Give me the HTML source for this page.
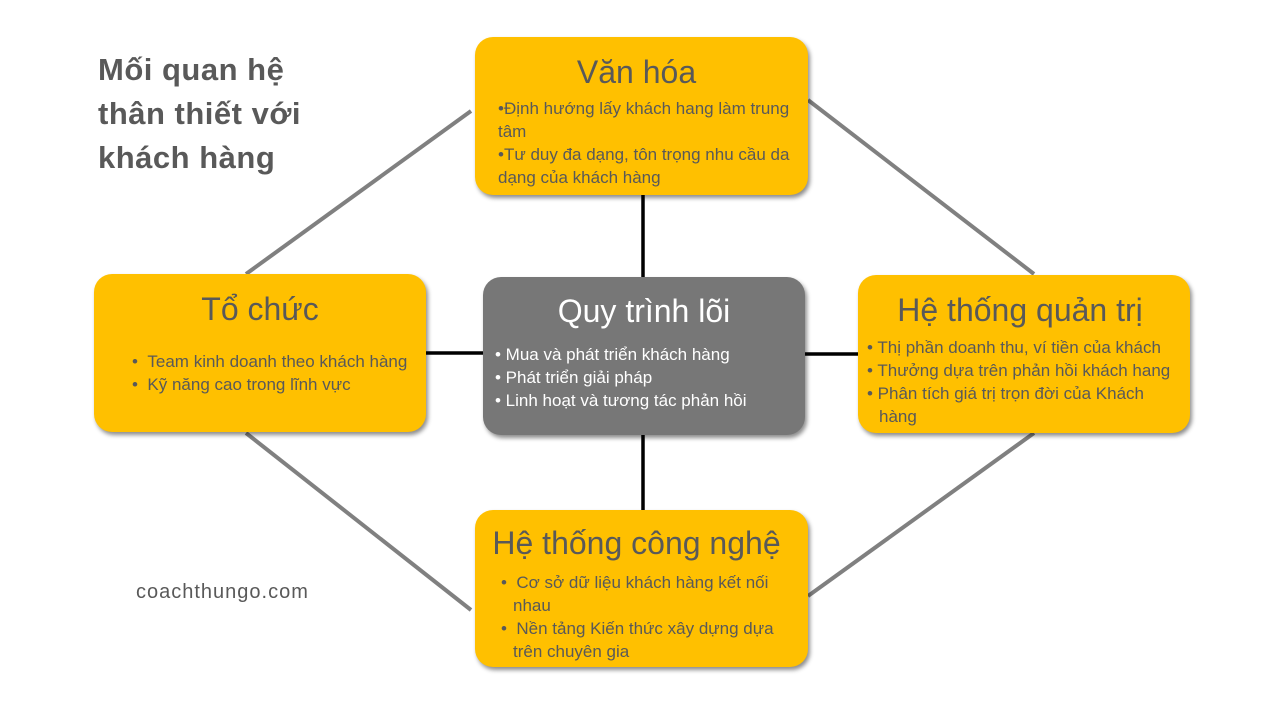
<!DOCTYPE html>
<html><head><meta charset="utf-8"><style>
body{margin:0;width:1280px;height:720px;background:#fff;position:relative;overflow:hidden;font-family:"Liberation Sans",sans-serif;color:#595959}
.b{position:absolute;background:#FFC000;border-radius:18px;box-shadow:2px 3px 4px rgba(0,0,0,.45);box-sizing:border-box}
.h{text-align:center;font-size:32px;line-height:38px}
.t{font-size:17px;line-height:23px}
.c{background:#777;color:#fff}
ul{margin:0;padding:0;list-style:none}
li{padding-left:12px;text-indent:-12px}
</style></head><body>
<svg width="1280" height="720" style="position:absolute;left:0;top:0">
<g stroke="#808080" stroke-width="4">
<line x1="471" y1="111" x2="246" y2="274"/>
<line x1="808" y1="100" x2="1034" y2="274"/>
<line x1="246" y1="433" x2="471" y2="610"/>
<line x1="1034" y1="433" x2="808" y2="596"/>
</g>
<g stroke="#000" stroke-width="3.5">
<line x1="643" y1="195" x2="643" y2="277"/>
<line x1="426" y1="353" x2="483" y2="353"/>
<line x1="805" y1="354" x2="858" y2="354"/>
<line x1="643" y1="435" x2="643" y2="510"/>
</g></svg>
<div style="position:absolute;left:98px;top:48px;font-size:31px;font-weight:bold;line-height:44px;letter-spacing:0.5px">Mối quan hệ<br>thân thiết với<br>khách hàng</div>
<div style="position:absolute;left:136px;top:581px;font-size:20px;letter-spacing:1px">coachthungo.com</div>

<div class="b" style="left:475px;top:37px;width:333px;height:158px;padding:16px 10px 0 23px">
<div class="h" style="margin-left:-23px">Văn hóa</div>
<div class="t" style="margin-top:6px">•Định hướng lấy khách hang làm trung tâm<br>•Tư duy đa dạng, tôn trọng nhu cầu da dạng của khách hàng</div></div>

<div class="b" style="left:94px;top:274px;width:332px;height:158px;padding:16px 0 0 38px">
<div class="h" style="margin-left:-38px">Tổ chức</div>
<ul class="t" style="margin-top:22px"><li>•&nbsp;&nbsp;Team kinh doanh theo khách hàng</li><li>•&nbsp;&nbsp;Kỹ năng cao trong lĩnh vực</li></ul></div>

<div class="b c" style="left:483px;top:277px;width:322px;height:158px;padding:15px 0 0 12px">
<div class="h" style="margin-left:-12px;color:#fff">Quy trình lõi</div>
<ul class="t" style="margin-top:13px"><li>• Mua và phát triển khách hàng</li><li>• Phát triển giải pháp</li><li>• Linh hoạt và tương tác phản hồi</li></ul></div>

<div class="b" style="left:858px;top:275px;width:332px;height:158px;padding:16px 8px 0 9px">
<div class="h" style="margin-left:-9px">Hệ thống quản trị</div>
<ul class="t" style="margin-top:7px"><li>• Thị phần doanh thu, ví tiền của khách</li><li>• Thưởng dựa trên phản hồi khách hang</li><li>• Phân tích giá trị trọn đời của Khách hàng</li></ul></div>

<div class="b" style="left:475px;top:510px;width:333px;height:157px;padding:14px 10px 0 13px">
<div class="h" style="margin-left:-13px">Hệ thống công nghệ</div>
<ul class="t" style="margin-top:9px;padding-left:0"><li style="padding-left:25px;text-indent:-12px">•&nbsp;&nbsp;Cơ sở dữ liệu khách hàng kết nối nhau</li><li style="padding-left:25px;text-indent:-12px">•&nbsp;&nbsp;Nền tảng Kiến thức xây dựng dựa trên chuyên gia</li></ul></div>
</body></html>
